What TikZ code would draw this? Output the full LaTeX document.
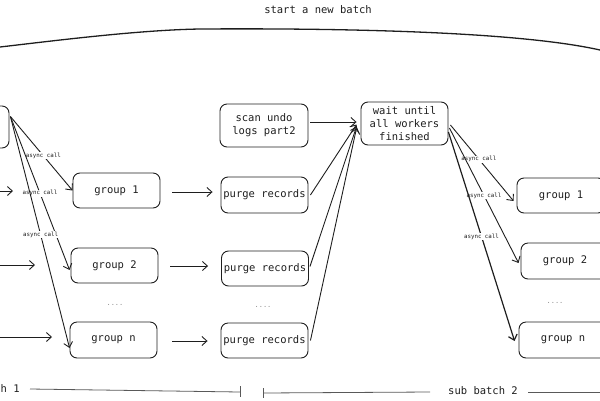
\documentclass[tikz,border=0pt]{standalone}
\usepackage{fontspec}
\setmainfont{DejaVu Sans Mono}
\usetikzlibrary{arrows.meta,calc}
\definecolor{ink}{HTML}{1E1E1E}
\begin{document}
\begin{tikzpicture}[x=1pt,y=-1pt,
  stroke/.style={draw=ink, line width=0.9pt},
  box/.style={stroke, rounded corners=7pt, inner sep=0pt, align=center,
    font=\fontsize{10.5}{13}\selectfont, text=ink},
  gbox/.style={box, minimum width=87pt, minimum height=36pt},
  arr/.style={stroke, -{Straight Barb[length=5pt,width=9pt]}},
  lbl/.style={font=\fontsize{5.8}{7}\selectfont, fill=white, inner sep=0.8pt, text=ink},
  dotsty/.style={font=\fontsize{7}{8}\selectfont, text=black!45},
  caption/.style={font=\fontsize{10.5}{13}\selectfont, text=ink},
  thin/.style={draw=black!65, line width=0.8pt}]
\useasboundingbox (0,0) rectangle (600,400);
\clip (0,0) rectangle (600,400);

% top
\node[caption] (top) at (318,10) {start a new batch};
\draw[stroke, line width=1.3pt] (0,47) .. controls (60,40) and (140,30) .. (200,29)
  .. controls (350,28) and (520,32) .. (600,50);

% boxes
\node[box, minimum width=89pt, minimum height=42pt] (L0) at (-35.5,127) {};
\node[gbox, minimum height=35pt] (g1L) at (116.5,190.5) {group 1};
\node[gbox, minimum height=35pt] (g2L) at (114.5,265.5) {group 2};
\node[gbox] (gnL) at (113.5,340) {group n};

\node[box, minimum width=88pt, minimum height=43pt] (scan) at (264,125.5) {scan undo\\logs part2};
\node[gbox] (p1) at (264.5,195) {purge records};
\node[gbox, minimum height=35pt] (p2) at (265,268.5) {purge records};
\node[gbox, minimum height=35pt] (pn) at (264.5,340.5) {purge records};

\node[box, minimum width=87pt, minimum height=43pt] (wait) at (404.5,123.5) {wait until\\all workers\\finished};

\node[gbox, minimum width=88pt, minimum height=35pt] (g1R) at (561,195.5) {group 1};
\node[gbox, minimum width=88pt] (g2R) at (565,261) {group 2};
\node[gbox, minimum width=88pt] (gnR) at (563,340) {group n};

% dots
\node[dotsty] (d1) at (115,305) {....};
\node[dotsty] (d2) at (263,307) {....};
\node[dotsty] (d3) at (555,303) {....};

% left fan
\coordinate (ls) at ($(L0.north east)+(1,11)$);
\draw[arr] (ls) -- node[lbl, pos=0.53] {async call} (g1L.west);
\draw[arr] (ls) -- node[lbl, pos=0.50] {async call} ($(g2L.west)+(-1,4.5)$);
\draw[arr] (ls) -- node[lbl, pos=0.51] {async call} ($(gnL.west)+(0,8)$);

% incoming left arrows
\coordinate (a1) at (0,191); \coordinate (b1) at (13,191);
\coordinate (a2) at (0,265); \coordinate (b2) at (35,265);
\coordinate (a3) at (0,337); \coordinate (b3) at (52,337);
\draw[arr] (a1) -- (b1);
\draw[arr] (a2) -- (b2);
\draw[arr] (a3) -- (b3);

% group -> purge
\draw[arr] ($(g1L.east)+(12,1.5)$) -- ($(p1.west)+(-8,-3)$);
\draw[arr] ($(g2L.east)+(12,0.5)$) -- ($(p2.west)+(-13,-2.5)$);
\draw[arr] ($(gnL.east)+(15,1)$) -- ($(pn.west)+(-13,0.5)$);

% to wait
\draw[arr] ($(scan.east)+(2,-3.5)$) -- ($(wait.west)+(-4,-1.5)$);
\draw[arr] ($(p1.east)+(2,0)$) -- ($(wait.west)+(-4,1)$);
\draw[arr] ($(p2.east)+(1,-2)$) -- ($(wait.west)+(-4,3)$);
\draw[arr] ($(pn.east)+(2,0)$) -- ($(wait.west)+(-4,4.5)$);

% right fan
\draw[arr] ($(wait.east)+(2,1.5)$) -- node[lbl, pos=0.45] {async call} ($(g1R.west)+(-3,5.5)$);
\draw[arr] ($(wait.east)+(1,4.5)$) -- node[lbl, pos=0.50] {async call} ($(g2R.west)+(-2,2)$);
\draw[arr, line width=1.2pt] ($(wait.east)+(0,8.5)$) -- node[lbl, pos=0.50] {async call} ($(gnR.west)+(-4,1)$);

% bottom
\node[caption, anchor=west, inner sep=0pt] (sb1) at (0.5,389) {h 1};
\node[caption] (sb2) at (483,391) {sub batch 2};
\coordinate (t1) at (240,392);
\coordinate (t2) at (263,393);
\draw[thin] (30,389) -- (t1);
\draw[thin] (240,386) -- (240,397);
\draw[thin] (263,388) -- (263,398);
\draw[thin] (t2) -- (430,392);
\draw[thin] (528,392) -- (600,392);
\end{tikzpicture}
\end{document}
